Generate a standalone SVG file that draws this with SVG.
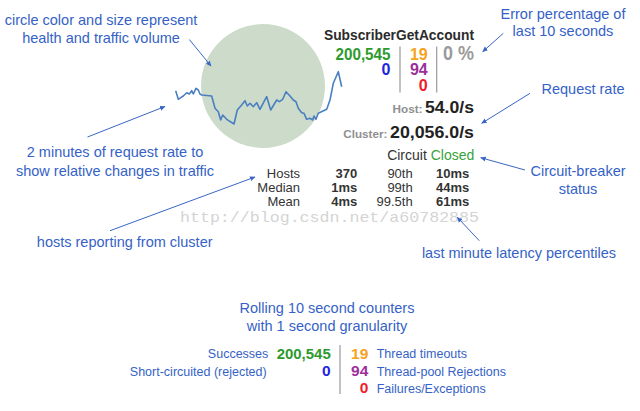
<svg xmlns="http://www.w3.org/2000/svg" width="640" height="411" viewBox="0 0 640 411">
<defs>
<style>
.lbl{font-family:"Liberation Sans",Arial,sans-serif;font-size:14.5px;fill:#3562c6;}
.sm{font-family:"Liberation Sans",Arial,sans-serif;font-size:12.5px;fill:#3562c6;}
.st{font-family:"Liberation Sans",Arial,sans-serif;font-weight:bold;}
.tb{font-family:"Liberation Sans",Arial,sans-serif;font-size:13px;fill:#333;}
.arr{stroke:#3a66c4;stroke-width:1;fill:none;marker-end:url(#ah);}
.sep{stroke:#999;stroke-width:1.2;}
</style>
<marker id="ah" markerWidth="6" markerHeight="6" refX="5" refY="3" orient="auto" markerUnits="userSpaceOnUse">
<path d="M0,0.5 L5.5,3 L0,5.5 z" fill="#3a66c4"/>
</marker>
</defs>
<rect width="640" height="411" fill="#fff"/>

<g id="circle">
<circle cx="263" cy="86" r="62" fill="#cddbcb"/>
</g>
<g id="sparkline">
<polyline fill="none" stroke="#4a7fc2" stroke-width="1.6" stroke-linejoin="round" points="175.7,90.7 178.3,99.3 180.7,97.7 183.3,96 186.7,92.7 189.3,94 191.7,90.7 193.3,94 196,88.3 198.3,90 200,94 201.7,95 211.7,96 215,108.3 218.3,111.7 220.7,120 222.7,115 226.7,119.3 234,124 237.3,110 241.7,105 245,100.7 247.3,106 250,103.3 253.3,106.7 256.7,102.7 260,109.3 264,101.7 266.7,96.7 270.7,110 276.7,100 279.3,101.7 282.7,99.3 286,91.7 290,96 293.3,100 296,101.7 298.3,108.3 301.7,112.7 304,113.3 306.7,119.3 310,118.3 312.7,120 314,116 316,119.3 318.3,113.3 326.7,109.3 330,100 333.3,83.3 338.3,71.7 341.7,86.7"/>
</g>

<g id="watermark">
<text x="180" y="222" font-family="'Liberation Mono','DejaVu Sans Mono',monospace" font-size="15" fill="#d4d4d4" textLength="299" lengthAdjust="spacingAndGlyphs">http://blog.csdn.net/a60782885</text>
</g>

<g id="title">
<text class="st" x="474" y="40" text-anchor="end" font-size="15.5" fill="#2b2b2b" textLength="150" lengthAdjust="spacingAndGlyphs">SubscriberGetAccount</text>
</g>
<g id="counters-top">
<text class="st" x="390.5" y="59.5" text-anchor="end" font-size="16" fill="#2e9a2e" textLength="55" lengthAdjust="spacingAndGlyphs">200,545</text>
<text class="st" x="390.5" y="75" text-anchor="end" font-size="16" fill="#2424e0">0</text>
<line class="sep" x1="400" y1="46.5" x2="400" y2="92.5"/>
<text class="st" x="427.7" y="59.5" text-anchor="end" font-size="16" fill="#f7a21c">19</text>
<text class="st" x="427.7" y="75" text-anchor="end" font-size="16" fill="#9b2f9b">94</text>
<text class="st" x="427.7" y="90.7" text-anchor="end" font-size="16" fill="#f0202a">0</text>
<line class="sep" x1="436.7" y1="46.5" x2="436.7" y2="92.5"/>
<text class="st" x="474" y="60" text-anchor="end" font-size="19.5" fill="#9a9a9a" textLength="31" lengthAdjust="spacingAndGlyphs">0 %</text>
</g>
<g id="rates">
<text class="st" x="422.5" y="113.3" text-anchor="end" font-size="11" fill="#8f8f8f" textLength="30" lengthAdjust="spacingAndGlyphs">Host:</text>
<text class="st" x="474" y="113.3" text-anchor="end" font-size="16.5" fill="#222" textLength="49" lengthAdjust="spacingAndGlyphs">54.0/s</text>
<text class="st" x="387.3" y="137.7" text-anchor="end" font-size="11.5" fill="#8f8f8f" textLength="44" lengthAdjust="spacingAndGlyphs">Cluster:</text>
<text class="st" x="474" y="137.7" text-anchor="end" font-size="16.5" fill="#222" textLength="84" lengthAdjust="spacingAndGlyphs">20,056.0/s</text>
</g>
<g id="circuit">
<text x="474.3" y="159.5" text-anchor="end" font-family="'Liberation Sans',Arial,sans-serif" font-size="14" fill="#333">Circuit <tspan fill="#3aa23a">Closed</tspan></text>
</g>
<g id="latency-table">
<text class="tb" x="300" y="178.3" text-anchor="end">Hosts</text>
<text class="tb" x="300" y="192.3" text-anchor="end">Median</text>
<text class="tb" x="300" y="205.7" text-anchor="end">Mean</text>
<text class="tb" x="357.3" y="178.3" text-anchor="end" font-weight="bold" fill="#222">370</text>
<text class="tb" x="357.3" y="192.3" text-anchor="end" font-weight="bold" fill="#222">1ms</text>
<text class="tb" x="357.3" y="205.7" text-anchor="end" font-weight="bold" fill="#222">4ms</text>
<text class="tb" x="412.7" y="178.3" text-anchor="end">90th</text>
<text class="tb" x="412.7" y="192.3" text-anchor="end">99th</text>
<text class="tb" x="412.7" y="205.7" text-anchor="end">99.5th</text>
<text class="tb" x="469.3" y="178.3" text-anchor="end" font-weight="bold" fill="#222">10ms</text>
<text class="tb" x="469.3" y="192.3" text-anchor="end" font-weight="bold" fill="#222">44ms</text>
<text class="tb" x="469.3" y="205.7" text-anchor="end" font-weight="bold" fill="#222">61ms</text>
</g>

<g id="label-circle">
<text class="lbl" x="101" y="25.3" text-anchor="middle">circle color and size represent</text>
<text class="lbl" x="101" y="43.3" text-anchor="middle">health and traffic volume</text>
</g>
<g id="label-sparkline">
<text class="lbl" x="115" y="157.3" text-anchor="middle">2 minutes of request rate to</text>
<text class="lbl" x="115" y="175.7" text-anchor="middle">show relative changes in traffic</text>
</g>
<g id="label-hosts">
<text class="lbl" x="124.7" y="246.7" text-anchor="middle">hosts reporting from cluster</text>
</g>
<g id="label-error">
<text class="lbl" x="563" y="18.5" text-anchor="middle">Error percentage of</text>
<text class="lbl" x="563" y="36" text-anchor="middle">last 10 seconds</text>
</g>
<g id="label-rate">
<text class="lbl" x="583" y="93.5" text-anchor="middle">Request rate</text>
</g>
<g id="label-circuit">
<text class="lbl" x="578" y="176" text-anchor="middle">Circuit-breaker</text>
<text class="lbl" x="578" y="194" text-anchor="middle">status</text>
</g>
<g id="label-latency">
<text class="lbl" x="519" y="258.3" text-anchor="middle">last minute latency percentiles</text>
</g>
<g id="label-rolling">
<text class="lbl" x="327" y="313.3" text-anchor="middle">Rolling 10 second counters</text>
<text class="lbl" x="327" y="330.7" text-anchor="middle">with 1 second granularity</text>
</g>

<g id="legend">
<text class="sm" x="268.3" y="358.3" text-anchor="end">Successes</text>
<text class="sm" x="266.7" y="376" text-anchor="end">Short-circuited (rejected)</text>
<text class="st" x="330.7" y="358.5" text-anchor="end" font-size="15.5" fill="#2e9a2e" textLength="54" lengthAdjust="spacingAndGlyphs">200,545</text>
<text class="st" x="330.7" y="376" text-anchor="end" font-size="15.5" fill="#2424e0">0</text>
<line class="sep" x1="340" y1="345" x2="340" y2="394"/>
<text class="st" x="368.3" y="358.5" text-anchor="end" font-size="15.5" fill="#f7a21c">19</text>
<text class="st" x="368.3" y="376" text-anchor="end" font-size="15.5" fill="#9b2f9b">94</text>
<text class="st" x="368.3" y="392.7" text-anchor="end" font-size="15.5" fill="#f0202a">0</text>
<text class="sm" x="376.7" y="358.3">Thread timeouts</text>
<text class="sm" x="376.7" y="376">Thread-pool Rejections</text>
<text class="sm" x="376.7" y="392.7">Failures/Exceptions</text>
</g>

<g id="connectors">
<line class="arr" x1="189.3" y1="39.5" x2="211" y2="66"/>
<line class="arr" x1="87.5" y1="137" x2="165" y2="106.5"/>
<line class="arr" x1="110" y1="230.7" x2="255" y2="177"/>
<line class="arr" x1="503.3" y1="33.3" x2="482.7" y2="51.7"/>
<line class="arr" x1="530" y1="93.3" x2="481.7" y2="123.3"/>
<line class="arr" x1="525" y1="170" x2="480.7" y2="157.7"/>
<line class="arr" x1="479.3" y1="240.7" x2="457.3" y2="217.3"/>
</g>
</svg>
